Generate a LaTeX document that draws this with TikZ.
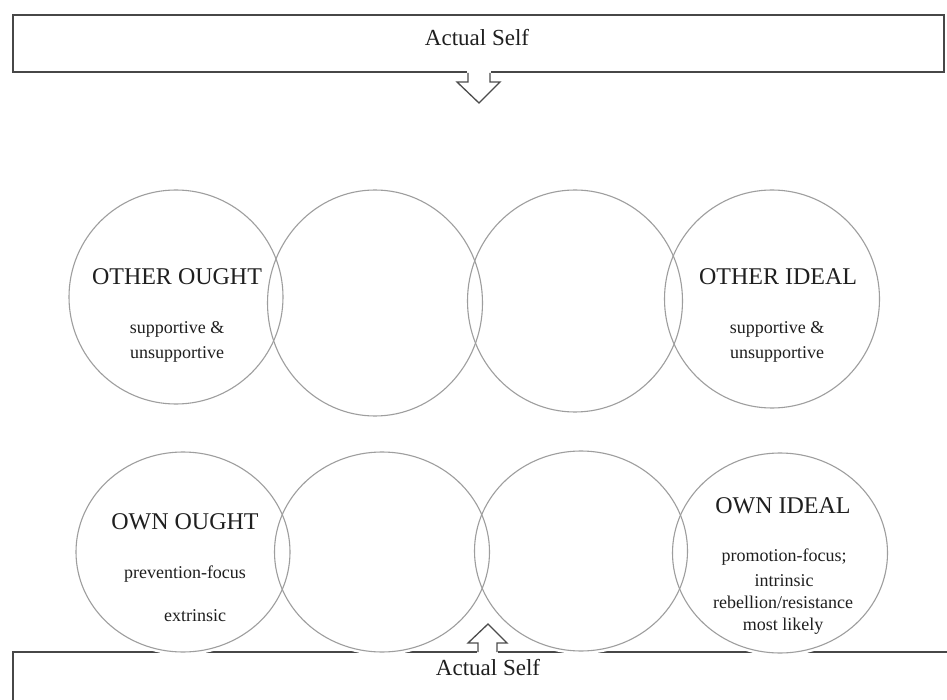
\documentclass[tikz,border=0pt]{standalone}
\usepackage{fontspec}
\setmainfont{Liberation Serif}
\begin{document}
\begin{tikzpicture}[x=1pt,y=-1pt,
  frame/.style={draw=black!72, line width=2pt},
  ring/.style={draw=black!38, line width=1.1pt},
  halo/.style={draw=white, line width=6pt},
  blockarrow/.style={draw=black!70, line width=1.3pt, fill=white, line join=miter},
  heading/.style={font=\fontsize{24}{28}\selectfont, text=black!88, inner sep=0pt, anchor=base},
  detail/.style={font=\fontsize{18}{22}\selectfont, text=black!88, inner sep=0pt, anchor=base},
  selftext/.style={font=\fontsize{23}{27}\selectfont, text=black!88, inner sep=0pt, anchor=base}]
\useasboundingbox (0,0) rectangle (947,700);
\fill[white] (0,0) rectangle (947,700);
\clip (0,0) rectangle (947,700);

% upper frame with its downward block arrow
\node[frame, rectangle, minimum width=931pt, minimum height=57pt, inner sep=0pt] (topbox) at (478.5,43.5) {};
\node[selftext] (toplabel) at (477,46) {Actual Self};
\fill[white] (467,71) rectangle (491,76);
\draw[blockarrow] (468,73) -- (468,82) -- (457,82) -- (479,103) -- (500,82) -- (490,82) -- (490,73);

% lower frame, running off the page at the right and the bottom
\coordinate (lowcorner) at (13,652);
\draw[frame] (13,720) -- (lowcorner) -- (970,652);

% white halos keep the lower circles clear of the frame line
\foreach \cx/\cy in {183/552, 382/552, 581/551, 780/553}
  \fill[white] (\cx,\cy) ellipse [x radius=107, y radius=100];
\foreach \cx/\cy in {183/552, 382/552, 581/551, 780/553}
  \draw[halo] (\cx,\cy) ellipse [x radius=107, y radius=100];

% upper row of circles
\draw[ring] (176,297) ellipse [x radius=107, y radius=107];
\draw[ring] (375,303) ellipse [x radius=107.5, y radius=113];
\draw[ring] (575,301) ellipse [x radius=107.5, y radius=111];
\draw[ring] (772,299) ellipse [x radius=107.5, y radius=109];

% lower row of circles
\draw[ring] (183,552) ellipse [x radius=107, y radius=100];
\draw[ring] (382,552) ellipse [x radius=107.5, y radius=100];
\draw[ring] (581,551) ellipse [x radius=106.5, y radius=100];
\draw[ring] (780,553) ellipse [x radius=107.5, y radius=100];

% upward block arrow into the lower frame
\fill[white] (477,649) rectangle (498,656);
\draw[blockarrow] (478,652) -- (478,643) -- (468,643) -- (488,624) -- (507,643) -- (497,643) -- (497,652);
\node[selftext] (lowlabel) at (488,675) {Actual Self};

% circle labels
\node[heading] (ootitle) at (177,285) {OTHER OUGHT};
\node[detail] (oo1) at (177,334) {supportive \&};
\node[detail] (oo2) at (177,359) {unsupportive};

\node[heading] (oititle) at (778,285) {OTHER IDEAL};
\node[detail] (oi1) at (777,334) {supportive \&};
\node[detail] (oi2) at (777,359) {unsupportive};

\node[heading] (wotitle) at (185,529) {OWN OUGHT};
\node[detail] (wo1) at (185,578) {prevention-focus};
\node[detail] (wo2) at (195,621) {extrinsic};

\node[heading] (wititle) at (783,513) {OWN IDEAL};
\node[detail] (wi1) at (784,561) {promotion-focus;};
\node[detail] (wi2) at (784,586) {intrinsic};
\node[detail] (wi3) at (783,608) {rebellion/resistance};
\node[detail] (wi4) at (783,630) {most likely};
\end{tikzpicture}
\end{document}
